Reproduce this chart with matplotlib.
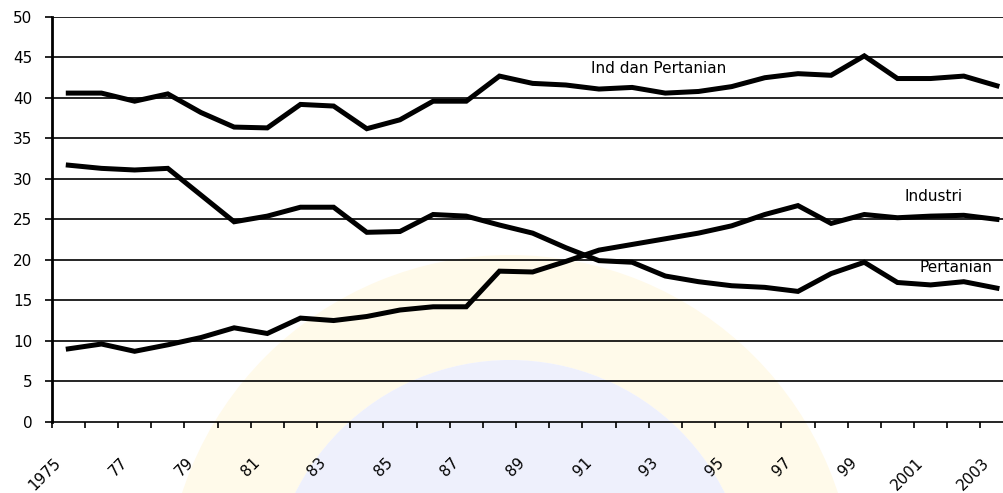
import matplotlib
matplotlib.use("Agg")
import matplotlib.pyplot as plt
import matplotlib.patches as mpatches
import matplotlib.transforms as mtransforms
import numpy as np

years = list(range(1975, 2004))
tick_labels = ["1975", "77", "79", "81", "83", "85", "87", "89", "91", "93",
               "95", "97", "99", "2001", "2003"]

# share of GDP (%)
ind_dan_pertanian = [40.6, 40.6, 39.6, 40.5, 38.2, 36.4, 36.3, 39.2, 39.0, 36.2,
                     37.3, 39.6, 39.6, 42.7, 41.8, 41.6, 41.1, 41.3, 40.6, 40.8,
                     41.4, 42.5, 43.0, 42.8, 45.2, 42.4, 42.4, 42.7, 41.5]
pertanian = [31.7, 31.3, 31.1, 31.3, 28.0, 24.7, 25.4, 26.5, 26.5, 23.4,
             23.5, 25.6, 25.4, 24.3, 23.3, 21.5, 19.9, 19.7, 18.0, 17.3,
             16.8, 16.6, 16.1, 18.3, 19.7, 17.2, 16.9, 17.3, 16.5]
industri = [9.0, 9.6, 8.7, 9.5, 10.4, 11.6, 10.9, 12.8, 12.5, 13.0,
            13.8, 14.2, 14.2, 18.6, 18.5, 19.8, 21.2, 21.9, 22.6, 23.3,
            24.2, 25.6, 26.7, 24.5, 25.6, 25.2, 25.4, 25.5, 25.0]

fig = plt.figure(figsize=(10.04, 4.93), dpi=100)

# faint emblem behind the plot
emblem_c = (5.1, -1.07)
ring = mpatches.Wedge(emblem_c, 3.45, 0, 360, width=1.05, facecolor="#fffaea",
                      edgecolor="none", transform=fig.dpi_scale_trans, zorder=-2)
disk = mpatches.Circle(emblem_c, 2.4, facecolor="#eef0fc", edgecolor="none",
                       transform=fig.dpi_scale_trans, zorder=-2)
fig.add_artist(ring)
fig.add_artist(disk)

# axes run a bit past the right edge of the figure
ax = fig.add_axes([0.0515, 0.1446, 0.958, 0.8209])
ax.set_facecolor("none")

x = np.arange(len(years))
for series in (ind_dan_pertanian, pertanian, industri):
    ax.plot(x, series, color="black", lw=3.6, solid_joinstyle="miter", zorder=3)

ax.set_xlim(-0.5, len(years) - 0.5)
ax.set_ylim(0, 50)
ax.set_yticks(np.arange(0, 51, 5))
for yv in np.arange(5, 51, 5):
    ax.axhline(yv, color="black", lw=1.2, zorder=1)

for side in ("top", "right"):
    ax.spines[side].set_visible(False)
ax.spines["left"].set_linewidth(2.0)
ax.spines["bottom"].set_linewidth(1.2)

# tick marks between categories, labels on every other year
ax.set_xticks(np.arange(-0.5, len(years), 1.0))
ax.set_xticklabels([])
ax.tick_params(axis="x", which="major", direction="out", length=4, width=1.2)
ax.set_xticks(x[::2], minor=True)
ax.set_xticklabels(tick_labels, minor=True, rotation=45, ha="right",
                   rotation_mode="anchor", fontsize=11)
ax.tick_params(axis="x", which="minor", length=0, pad=24)
shift = mtransforms.ScaledTranslation(-15 / 100, 0, fig.dpi_scale_trans)
for lab in ax.get_xticklabels(minor=True):
    lab.set_transform(lab.get_transform() + shift)

ax.tick_params(axis="y", direction="out", length=5, width=1.2, pad=9,
               labelsize=11)

ax.text(17.8, 43.7, "Ind dan Pertanian", fontsize=11, ha="center", va="center")
ax.text(26.1, 27.8, "Industri", fontsize=11, ha="center", va="center")
ax.text(26.75, 19.1, "Pertanian", fontsize=11, ha="center", va="center")

fig.savefig("out.png", dpi=100)
